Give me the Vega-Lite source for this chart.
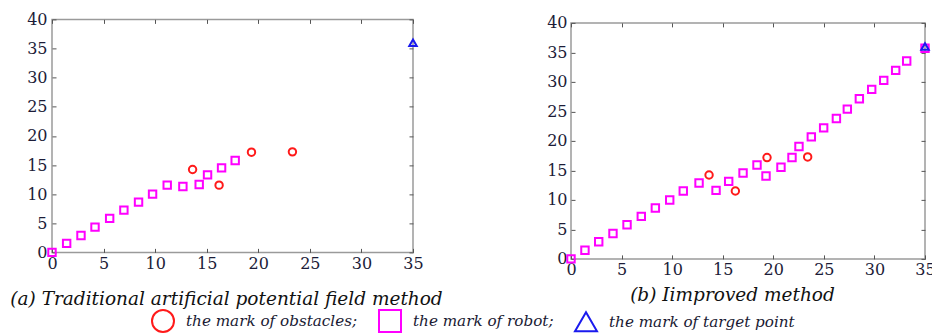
{
  "$schema": "https://vega.github.io/schema/vega-lite/v6.json",
  "background": "white",
  "padding": {"left": 9, "top": -1, "right": 0, "bottom": 0},
  "spacing": 102,
  "center": true,
  "datasets": {
    "a": [
      {"x": 0, "y": 0, "type": "robot"},
      {"x": 1.42, "y": 1.54, "type": "robot"},
      {"x": 2.81, "y": 2.91, "type": "robot"},
      {"x": 4.17, "y": 4.34, "type": "robot"},
      {"x": 5.59, "y": 5.83, "type": "robot"},
      {"x": 6.97, "y": 7.26, "type": "robot"},
      {"x": 8.39, "y": 8.63, "type": "robot"},
      {"x": 9.75, "y": 10.0, "type": "robot"},
      {"x": 11.17, "y": 11.54, "type": "robot"},
      {"x": 12.69, "y": 11.31, "type": "robot"},
      {"x": 14.27, "y": 11.66, "type": "robot"},
      {"x": 15.08, "y": 13.31, "type": "robot"},
      {"x": 16.44, "y": 14.51, "type": "robot"},
      {"x": 17.76, "y": 15.77, "type": "robot"},
      {"x": 13.63, "y": 14.23, "type": "obstacle"},
      {"x": 16.2, "y": 11.54, "type": "obstacle"},
      {"x": 19.34, "y": 17.2, "type": "obstacle"},
      {"x": 23.31, "y": 17.26, "type": "obstacle"},
      {"x": 35, "y": 36, "type": "target"}
    ],
    "b": [
      {"x": 0, "y": 0, "type": "robot"},
      {"x": 1.38, "y": 1.47, "type": "robot"},
      {"x": 2.74, "y": 2.89, "type": "robot"},
      {"x": 4.15, "y": 4.31, "type": "robot"},
      {"x": 5.54, "y": 5.78, "type": "robot"},
      {"x": 6.95, "y": 7.2, "type": "robot"},
      {"x": 8.34, "y": 8.61, "type": "robot"},
      {"x": 9.76, "y": 9.97, "type": "robot"},
      {"x": 11.1, "y": 11.5, "type": "robot"},
      {"x": 12.66, "y": 12.86, "type": "robot"},
      {"x": 14.34, "y": 11.61, "type": "robot"},
      {"x": 15.59, "y": 13.14, "type": "robot"},
      {"x": 17.01, "y": 14.56, "type": "robot"},
      {"x": 18.39, "y": 15.92, "type": "robot"},
      {"x": 19.28, "y": 14.05, "type": "robot"},
      {"x": 20.76, "y": 15.52, "type": "robot"},
      {"x": 21.85, "y": 17.17, "type": "robot"},
      {"x": 22.54, "y": 19.04, "type": "robot"},
      {"x": 23.76, "y": 20.68, "type": "robot"},
      {"x": 24.98, "y": 22.21, "type": "robot"},
      {"x": 26.24, "y": 23.8, "type": "robot"},
      {"x": 27.32, "y": 25.38, "type": "robot"},
      {"x": 28.51, "y": 27.14, "type": "robot"},
      {"x": 29.73, "y": 28.73, "type": "robot"},
      {"x": 30.92, "y": 30.25, "type": "robot"},
      {"x": 32.1, "y": 31.95, "type": "robot"},
      {"x": 33.19, "y": 33.54, "type": "robot"},
      {"x": 35, "y": 35.7, "type": "robot"},
      {"x": 13.65, "y": 14.22, "type": "obstacle"},
      {"x": 16.25, "y": 11.5, "type": "obstacle"},
      {"x": 19.38, "y": 17.17, "type": "obstacle"},
      {"x": 23.4, "y": 17.28, "type": "obstacle"},
      {"x": 35, "y": 36, "type": "target"}
    ]
  },
  "config": {
    "view": {"stroke": "#9a9a9a", "strokeWidth": 1.5},
    "axis": {
      "domain": false, "grid": false, "ticks": true,
      "tickColor": "#555", "tickSize": -4, "tickWidth": 1,
      "labelFont": "DejaVu Serif", "labelFontSize": 16, "labelColor": "#1c1c38",
      "labelFlush": false, "labelOverlap": false,
      "titleFont": "DejaVu Serif", "titleFontStyle": "italic", "titleFontWeight": "normal",
      "titleFontSize": 18.5, "titleColor": "#111111"
    },
    "point": {"filled": false, "strokeWidth": 2, "size": 55, "opacity": 1}
  },
  "hconcat": [
    {
      "width": 361, "height": 233,
      "data": {"name": "a"},
      "layer": [
        {
          "mark": {"type": "point"},
          "encoding": {
            "x": {"field": "x", "type": "quantitative",
              "scale": {"domain": [0, 35], "nice": false, "zero": false},
              "axis": {"orient": "bottom", "values": [0, 5, 10, 15, 20, 25, 30, 35], "labelPadding": 7,
                "title": "(a) Traditional artificial potential field method",
                "titleX": 174, "titleY": 52, "titleAlign": "center", "titleBaseline": "alphabetic"}},
            "y": {"field": "y", "type": "quantitative",
              "scale": {"domain": [0, 40], "nice": false, "zero": false},
              "axis": {"orient": "left", "values": [0, 5, 10, 15, 20, 25, 30, 35, 40], "labelPadding": 9, "title": null}},
            "color": {"field": "type", "type": "nominal",
              "scale": {"domain": ["obstacle", "robot", "target"], "range": ["#ff1a1a", "#ff00ff", "#1a1aee"]},
              "legend": {
                "orient": "none", "legendX": 99, "legendY": 290,
                "direction": "horizontal", "columns": 3, "title": null, "padding": 0,
                "labelFont": "DejaVu Serif", "labelFontStyle": "italic", "labelFontSize": 15.2,
                "labelColor": "#1a1a33", "labelLimit": 500, "labelOffset": 11, "columnPadding": 17,
                "symbolSize": 484, "symbolStrokeWidth": 4.5,
                "labelExpr": "datum.value === 'obstacle' ? 'the mark of obstacles;' : datum.value === 'robot' ? 'the mark of robot;' : 'the mark of target point'",
                "encode": {
                  "symbols": {"update": {
                    "size": {"signal": "datum.value === 'robot' ? 484 : datum.value === 'target' ? 600 : 300"},
                    "strokeWidth": {"value": 4.5},
                    "stroke": {"signal": "datum.value === 'target' ? '#0000ff' : datum.value === 'robot' ? '#ff00ff' : '#ff0000'"}
                  }}
                }
              }},
            "shape": {"field": "type", "type": "nominal",
              "scale": {"domain": ["obstacle", "robot", "target"], "range": ["circle", "square", "triangle-up"]},
              "legend": null}
          }
        },
        {
          "mark": {"type": "point", "opacity": 0},
          "encoding": {
            "x": {"field": "x", "type": "quantitative",
              "axis": {"orient": "top", "values": [0, 5, 10, 15, 20, 25, 30, 35], "labels": false, "title": null}},
            "y": {"field": "y", "type": "quantitative",
              "axis": {"orient": "right", "values": [0, 5, 10, 15, 20, 25, 30, 35, 40], "labels": false, "title": null}}
          }
        }
      ],
      "resolve": {"axis": {"x": "independent", "y": "independent"}}
    },
    {
      "width": 354, "height": 236,
      "data": {"name": "b"},
      "layer": [
        {
          "mark": {"type": "point"},
          "encoding": {
            "x": {"field": "x", "type": "quantitative",
              "scale": {"domain": [0, 35], "nice": false, "zero": false},
              "axis": {"orient": "bottom", "values": [0, 5, 10, 15, 20, 25, 30, 35], "labelPadding": 7,
                "title": "(b) Iimproved method",
                "titleX": 161, "titleY": 42, "titleAlign": "center", "titleBaseline": "alphabetic"}},
            "y": {"field": "y", "type": "quantitative",
              "scale": {"domain": [0, 40], "nice": false, "zero": false},
              "axis": {"orient": "left", "values": [0, 5, 10, 15, 20, 25, 30, 35, 40], "labelPadding": 8, "title": null}},
            "color": {"field": "type", "type": "nominal",
              "scale": {"domain": ["obstacle", "robot", "target"], "range": ["#ff1a1a", "#ff00ff", "#1a1aee"]}},
            "shape": {"field": "type", "type": "nominal",
              "scale": {"domain": ["obstacle", "robot", "target"], "range": ["circle", "square", "triangle-up"]},
              "legend": null}
          }
        },
        {
          "mark": {"type": "point", "opacity": 0},
          "encoding": {
            "x": {"field": "x", "type": "quantitative",
              "axis": {"orient": "top", "values": [0, 5, 10, 15, 20, 25, 30, 35], "labels": true, "labelOpacity": 0, "labelFontSize": 15, "labelPadding": 11.5, "title": null}},
            "y": {"field": "y", "type": "quantitative",
              "axis": {"orient": "right", "values": [0, 5, 10, 15, 20, 25, 30, 35, 40], "labels": false, "title": null}}
          }
        }
      ],
      "resolve": {"axis": {"x": "independent", "y": "independent"}}
    }
  ],
  "resolve": {"scale": {"color": "shared", "shape": "shared"}, "legend": {"color": "shared", "shape": "shared"}}
}
